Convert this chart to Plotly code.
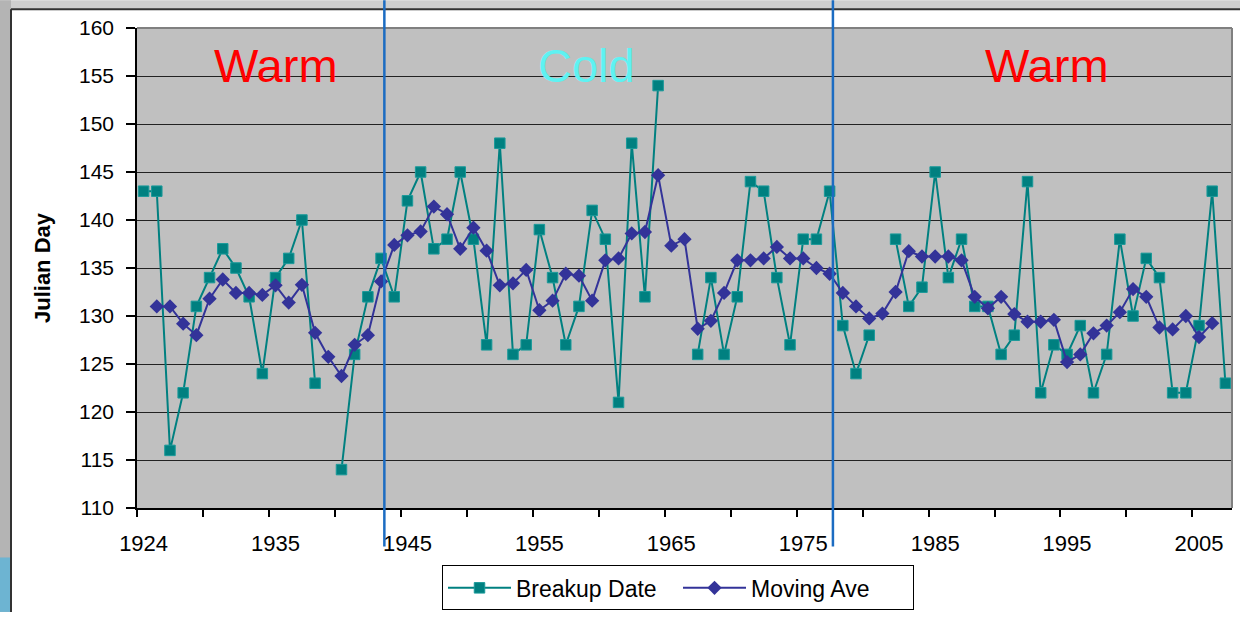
import plotly.graph_objects as go

# ---- data -------------------------------------------------------------
# category labels (one per recorded season; 1925 absent from the record)
years = [1924] + list(range(1926, 2008))

# river ice breakup date, Julian day (None = no observation)
breakup = [
    143, 143, 116, 122, 131, 134, 137, 135, 132, 124,
    134, 136, 140, 123, None, 114, 126, 132, 136, 132,
    142, 145, 137, 138, 145, 138, 127, 148, 126, 127,
    139, 134, 127, 131, 141, 138, 121, 148, 132, 154,
    None, None, 126, 134, 126, 132, 144, 143, 134, 127,
    138, 138, 143, 129, 124, 128, None, 138, 131, 133,
    145, 134, 138, 131, 131, 126, 128, 144, 122, 127,
    126, 129, 122, 126, 138, 130, 136, 134, 122, 122,
    129, 143, 123,
]

# five-season centred moving average of the breakup date
moving_ave = [
    None, 131.0, 131.0, 129.2, 128.0, 131.8, 133.8, 132.4, 132.4, 132.2,
    133.2, 131.4, 133.25, 128.25, 125.75, 123.75, 127.0, 128.0, 133.6, 137.4,
    138.4, 138.8, 141.4, 140.6, 137.0, 139.2, 136.8, 133.2, 133.4, 134.8,
    130.6, 131.6, 134.4, 134.2, 131.6, 135.8, 136.0, 138.6, 138.75, 144.67,
    137.33, 138.0, 128.67, 129.5, 132.4, 135.8, 135.8, 136.0, 137.2, 136.0,
    136.0, 135.0, 134.4, 132.4, 131.0, 129.75, 130.25, 132.5, 136.75, 136.2,
    136.2, 136.2, 135.8, 132.0, 130.8, 132.0, 130.2, 129.4, 129.4, 129.6,
    125.2, 126.0, 128.2, 129.0, 130.4, 132.8, 132.0, 128.8, 128.6, 130.0,
    127.8, 129.25, None,
]

# every tenth category carries a label
label_idx = list(range(0, len(years), 10))
tick_labels = [str(years[i]) for i in label_idx]

# climate regimes: names and the category positions of the regime shifts
phase_names = ["Warm", "Cold", "Warm"]
phase_breaks = [18.25, 52.25]

# ---- geometry helpers (pixel -> paper fraction) -----------------------
W, H = 1240, 618
PL, PR, PT, PB = 137, 1232, 28, 513


def fx(px):
    return (px - PL) / (PR - PL)


def fy(py):
    return (PB - py) / (PB - PT)


pos = list(range(len(years)))
FONT = "Liberation Sans, Arial, sans-serif"

fig = go.Figure()
fig.add_trace(go.Scatter(
    x=pos, y=breakup, name="Breakup Date", mode="lines+markers",
    line=dict(color="#008080", width=2),
    marker=dict(symbol="square", size=10.5, color="#008080",
                line=dict(width=1, color="#1a9a9a")),
    connectgaps=False,
))
fig.add_trace(go.Scatter(
    x=pos, y=moving_ave, name="Moving Ave", mode="lines+markers",
    line=dict(color="#333399", width=2),
    marker=dict(symbol="diamond", size=11, color="#333399"),
    connectgaps=False,
))

shapes = []
# slide backdrop strips around the white chart area
shapes.append(dict(type="rect", xref="paper", yref="paper", layer="below",
                   x0=fx(0), x1=fx(W), y0=fy(9), y1=fy(0),
                   fillcolor="#cfcfcf", line=dict(width=0)))
shapes.append(dict(type="rect", xref="paper", yref="paper", layer="below",
                   x0=fx(0), x1=fx(11), y0=fy(H), y1=fy(0),
                   fillcolor="#b4b4b4", line=dict(width=0)))
shapes.append(dict(type="rect", xref="paper", yref="paper", layer="below",
                   x0=fx(0), x1=fx(11), y0=fy(H), y1=fy(563),
                   fillcolor="#6db4d2", line=dict(width=0)))
# chart area border
shapes.append(dict(type="line", xref="paper", yref="paper", layer="below",
                   x0=fx(11), x1=fx(W), y0=fy(9), y1=fy(9),
                   line=dict(color="#333333", width=2)))
shapes.append(dict(type="line", xref="paper", yref="paper", layer="below",
                   x0=fx(11), x1=fx(11), y0=fy(H), y1=fy(9),
                   line=dict(color="#333333", width=2)))
# plot area frame (top and right)
shapes.append(dict(type="line", xref="paper", yref="paper",
                   x0=0, x1=1, y0=1, y1=1, line=dict(color="#808080", width=2)))
shapes.append(dict(type="line", xref="paper", yref="paper",
                   x0=1, x1=1, y0=0, y1=1, line=dict(color="#808080", width=2)))
# regime shift markers
for xb in phase_breaks:
    shapes.append(dict(type="line", xref="x", yref="paper", layer="above",
                       x0=xb, x1=xb, y0=fy(552), y1=fy(0),
                       line=dict(color="#1c6cc2", width=2.5)))

annotations = []
phase_x = [10, 33.6, 68.5]
phase_colors = ["#ff0000", "#5ef2f2", "#ff0000"]
for name, xc, col in zip(phase_names, phase_x, phase_colors):
    annotations.append(dict(
        x=xc, y=156.1, xref="x", yref="y", text=name, showarrow=False,
        xanchor="center", yanchor="middle",
        font=dict(family=FONT, size=47, color=col),
    ))

fig.update_layout(
    width=W, height=H,
    margin=dict(l=PL, r=W - PR, t=PT, b=H - PB, pad=0),
    paper_bgcolor="white",
    plot_bgcolor="#c0c0c0",
    font=dict(family=FONT, color="black"),
    showlegend=True,
    legend=dict(
        orientation="h", x=fx(678), xanchor="center", y=fy(571), yanchor="top",
        bgcolor="white", bordercolor="black", borderwidth=1,
        font=dict(family=FONT, size=23, color="black"),
        itemwidth=63, entrywidth=157, entrywidthmode="pixels",
    ),
    xaxis=dict(
        range=[-0.5, len(years) - 0.5], showgrid=False, zeroline=False,
        tickmode="array", tickvals=label_idx, ticktext=tick_labels,
        ticks="", ticklabelstandoff=15,
        tickfont=dict(family=FONT, size=22, color="black"),
        showline=True, linecolor="black", linewidth=1.5,
        minor=dict(ticks="outside", tick0=-0.5, dtick=5, ticklen=7,
                   tickcolor="black", tickwidth=1.5, showgrid=False),
    ),
    yaxis=dict(
        range=[110, 160], dtick=5, tick0=110,
        showgrid=True, gridcolor="#222222", gridwidth=1.3, zeroline=False,
        ticks="outside", ticklen=9, tickcolor="black", tickwidth=1.5,
        ticklabelstandoff=8,
        tickfont=dict(family=FONT, size=21, color="black"),
        showline=True, linecolor="black", linewidth=1.5,
        title=dict(text="<b>Julian Day</b>", standoff=22,
                   font=dict(family=FONT, size=22, color="black")),
    ),
    shapes=shapes,
    annotations=annotations,
)

fig.write_html("out.html")
